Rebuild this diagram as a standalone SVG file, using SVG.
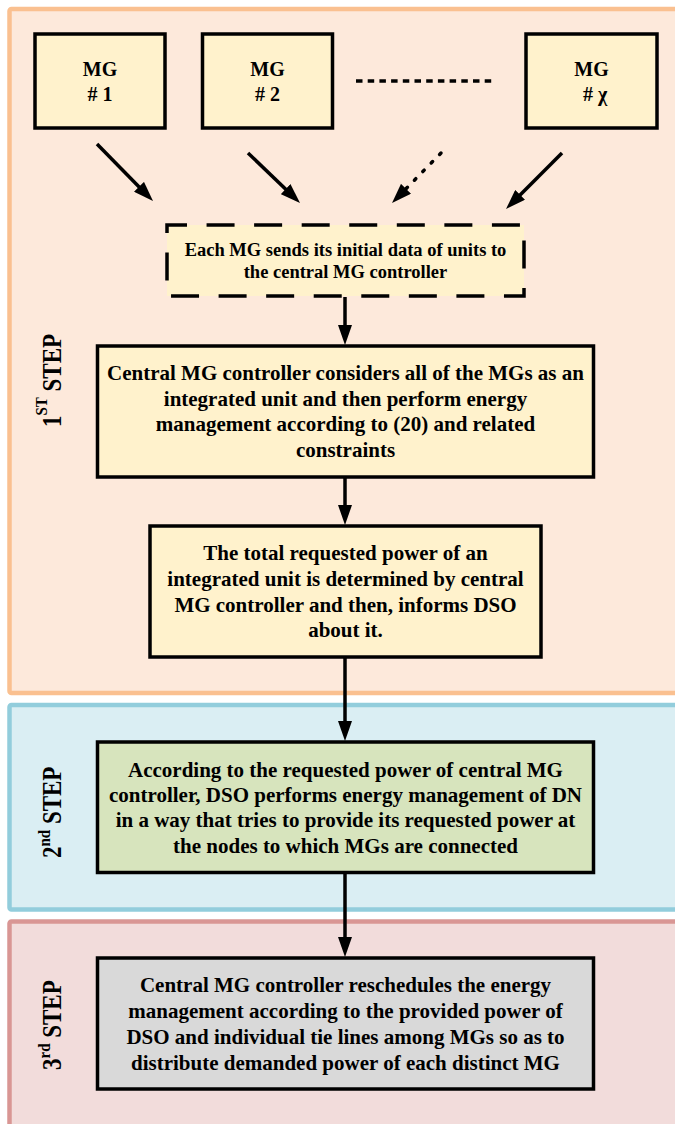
<svg xmlns="http://www.w3.org/2000/svg" width="675" height="1124" viewBox="0 0 675 1124">
<style>
  .t{font-family:"Liberation Serif","Times New Roman",serif;font-weight:bold;fill:#000;text-anchor:middle}
  .box{font-size:21px}
  .mg{font-size:20px}
  .dsh{font-size:18.5px}
  .step{font-family:"Liberation Serif","Times New Roman",serif;font-weight:bold;fill:#000;font-size:23px}
  .node{stroke:#000;stroke-width:3.5}
  .yel{fill:#FFF2CC}
  .conn{stroke:#000;stroke-width:3.5;fill:none;marker-end:url(#ah)}
</style>
<defs>
  <marker id="ah" markerUnits="userSpaceOnUse" viewBox="0 0 20 14" markerWidth="20" markerHeight="14" refX="10" refY="7" orient="auto">
    <path d="M0,0 L20,7 L0,14 z" fill="#000"/>
  </marker>
</defs>

<g id="panel-step1">
  <rect x="9.5" y="9" width="700" height="684" rx="2" fill="#FDE9DB" stroke="#FAC090" stroke-width="4.5"/>
  <text class="step" transform="translate(61,427) rotate(-90) scale(1,1.15)">1<tspan font-size="15" dy="-12">ST</tspan><tspan dy="12"> STEP</tspan></text>
</g>
<g id="panel-step2">
  <rect x="9.5" y="705" width="700" height="204.5" rx="2" fill="#DAEEF3" stroke="#92CDDC" stroke-width="4.5"/>
  <text class="step" transform="translate(61,858) rotate(-90) scale(1,1.15)">2<tspan font-size="15" dy="-10">nd</tspan><tspan dy="10">  STEP</tspan></text>
</g>
<g id="panel-step3">
  <rect x="9.5" y="921.5" width="700" height="220" rx="2" fill="#F2DCDB" stroke="#D99694" stroke-width="4.5"/>
  <text class="step" transform="translate(61,1070) rotate(-90) scale(1,1.15)">3<tspan font-size="15" dy="-10">rd</tspan><tspan dy="10"> STEP</tspan></text>
</g>

<g id="mg1">
  <rect class="node yel" x="35" y="34" width="130" height="94"/>
  <text class="t mg" x="100" y="76">MG</text>
  <text class="t mg" x="100" y="101"># 1</text>
</g>
<g id="mg2">
  <rect class="node yel" x="202.5" y="34" width="130" height="94"/>
  <text class="t mg" x="267.5" y="76">MG</text>
  <text class="t mg" x="267.5" y="101"># 2</text>
</g>
<g id="mgx">
  <rect class="node yel" x="526" y="34" width="131" height="94"/>
  <text class="t mg" x="591.5" y="76">MG</text>
  <text class="t mg" x="595" y="101"># χ</text>
</g>

<g id="dots">
  <line x1="356" y1="81" x2="496" y2="81" stroke="#000" stroke-width="3.5" stroke-dasharray="6.5 5.2"/>
</g>

<g id="collect">
  <rect x="167" y="225" width="357" height="71" fill="#FFF2CC" stroke="#000" stroke-width="3.5" stroke-dasharray="28 19.56" stroke-dashoffset="8"/>
  <text class="t dsh" x="345.5" y="256">Each MG sends its initial data of units to</text>
  <text class="t dsh" x="345.5" y="278">the central MG controller</text>
</g>

<g id="central">
  <rect class="node yel" x="97.5" y="346" width="496" height="131"/>
  <text class="t box" x="345.5" y="380">Central MG controller considers all of the MGs as an</text>
  <text class="t box" x="345.5" y="405.5">integrated unit and then perform energy</text>
  <text class="t box" x="345.5" y="431">management according to (20) and related</text>
  <text class="t box" x="345.5" y="456.5">constraints</text>
</g>

<g id="total">
  <rect class="node yel" x="150" y="526" width="391" height="131"/>
  <text class="t box" x="345.5" y="560">The total requested power of an</text>
  <text class="t box" x="345.5" y="586">integrated unit is determined by central</text>
  <text class="t box" x="345.5" y="611.5">MG controller and then, informs DSO</text>
  <text class="t box" x="345.5" y="637">about it.</text>
</g>

<g id="dso">
  <rect class="node" x="97.5" y="742" width="496" height="130.5" fill="#D7E4BD"/>
  <text class="t box" x="345.5" y="776.5">According to the requested power of central MG</text>
  <text class="t box" x="345.5" y="801.5">controller, DSO performs energy management of DN</text>
  <text class="t box" x="345.5" y="826.5">in a way that tries to provide its requested power at</text>
  <text class="t box" x="345.5" y="852.5">the nodes to which MGs are connected</text>
</g>

<g id="reschedule">
  <rect class="node" x="97.5" y="958" width="496" height="131" fill="#D9D9D9"/>
  <text class="t box" x="345.5" y="992">Central MG controller reschedules the energy</text>
  <text class="t box" x="345.5" y="1018">management according to the provided power of</text>
  <text class="t box" x="345.5" y="1044">DSO and individual tie lines among MGs so as to</text>
  <text class="t box" x="345.5" y="1069.5">distribute demanded power of each distinct MG</text>
</g>

<g id="connectors">
  <line class="conn" x1="97" y1="144" x2="146" y2="193.9"/>
  <line class="conn" x1="248" y1="153" x2="292.8" y2="196.1"/>
  <line class="conn" x1="441" y1="153" x2="399" y2="195.9" stroke-dasharray="2 10" stroke-linecap="round"/>
  <line class="conn" x1="562" y1="153" x2="513.1" y2="201.9"/>
  <line class="conn" x1="345" y1="297" x2="345" y2="335"/>
  <line class="conn" x1="345" y1="478" x2="345" y2="515"/>
  <line class="conn" x1="345" y1="658" x2="345" y2="731"/>
  <line class="conn" x1="345" y1="873" x2="345" y2="947"/>
</g>
</svg>
